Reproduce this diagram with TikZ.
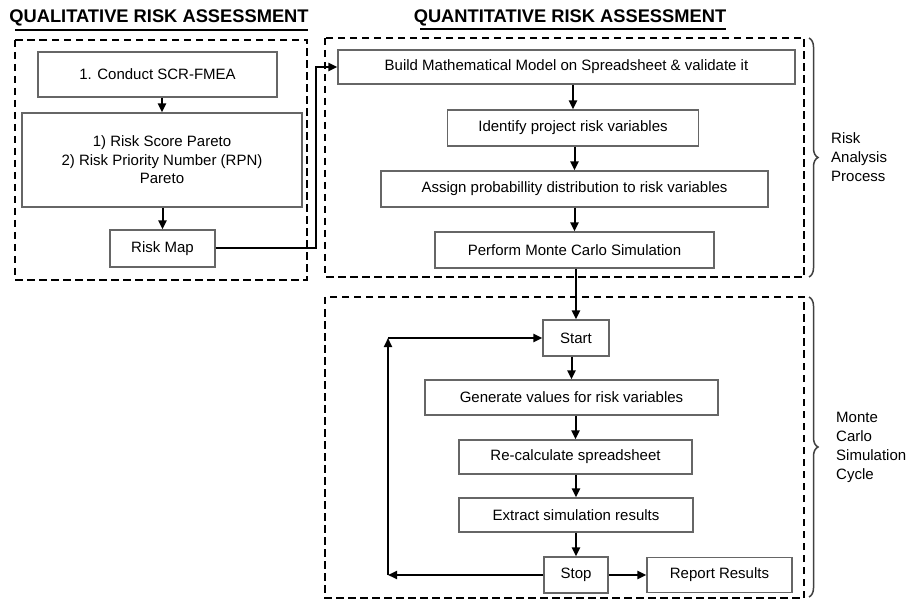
\documentclass[tikz,border=0pt]{standalone}
\usepackage{fontspec}
\setmainfont{Liberation Sans}
\usetikzlibrary{arrows.meta,decorations.pathreplacing}
\begin{document}
\begin{tikzpicture}[x=1pt,y=-1pt,
  box/.style={draw=black!60, line width=1.2pt, fill=white, inner sep=0pt,
    font=\fontsize{15}{18.5}\selectfont, align=center},
  arr/.style={line width=2pt, -{Triangle[length=9pt,width=8pt]}},
  dashbox/.style={line width=2.8pt, dash pattern=on 7.5pt off 4.5pt},
  ttl/.style={font=\fontsize{18.3}{21}\selectfont\bfseries, inner sep=0pt},
  brc/.style={draw=black!75, line width=1.5pt, decorate, decoration={brace, amplitude=9pt}},
  lbl/.style={font=\fontsize{15}{19}\selectfont, align=left, anchor=west, inner sep=0pt}]
\useasboundingbox (0,0) rectangle (920,601);
% titles
\node[ttl] (t1) at (159,18) {QUALITATIVE RISK ASSESSMENT};
\draw[line width=2pt] (15,30) -- (308,30);
\node[ttl] (t2) at (570,18) {QUANTITATIVE RISK ASSESSMENT};
\draw[line width=2pt] (420,29) -- (726,29);
% dashed frames
\draw[dashbox] (15,40) rectangle (307,280);
\draw[dashbox] (325,38) rectangle (804,277);
\draw[dashbox] (325,297) rectangle (804,598);
% left column
\node[box, minimum width=239pt, minimum height=45pt] (conduct) at (157.5,74.5) {1. Conduct SCR-FMEA};
\node[box, minimum width=280pt, minimum height=94pt] (pareto) at (162,160) {1) Risk Score Pareto\\2) Risk Priority Number (RPN)\\Pareto};
\node[box, minimum width=105pt, minimum height=37pt] (riskmap) at (162.5,248.5) {Risk Map};
% right column
\node[box, minimum width=457pt, minimum height=34pt] (build) at (566.5,67) {Build Mathematical Model on Spreadsheet \& validate it};
\node[box, minimum width=251pt, minimum height=36pt] (identify) at (573,128) {Identify project risk variables};
\node[box, minimum width=387pt, minimum height=36pt] (assign) at (574.5,189) {Assign probabillity distribution to risk variables};
\node[box, minimum width=279pt, minimum height=36pt] (perform) at (574.5,250) {Perform Monte Carlo Simulation};
\node[box, minimum width=66pt, minimum height=36pt] (start) at (576,338) {Start};
\node[box, minimum width=293pt, minimum height=35pt] (generate) at (571.5,397.5) {Generate values for risk variables};
\node[box, minimum width=233pt, minimum height=34pt] (recalc) at (575.5,457) {Re-calculate spreadsheet};
\node[box, minimum width=234pt, minimum height=34pt] (extract) at (576,515) {Extract simulation results};
\node[box, minimum width=64pt, minimum height=36pt] (stop) at (576,575) {Stop};
\node[box, minimum width=145pt, minimum height=35pt] (report) at (719.5,575) {Report Results};
% arrows left
\draw[arr] (conduct.south -| pareto.north) -- (pareto.north);
\draw[arr] (pareto.south -| riskmap.north) -- (riskmap.north);
\coordinate (rmturn) at (316,248.5);
\draw[arr] (riskmap.east) -- (rmturn) |- (build.west);
% arrows right
\draw[arr] (build.south -| identify.north) -- (identify.north);
\draw[arr] (identify.south -| assign.north) -- (assign.north);
\draw[arr] (assign.south -| perform.north) -- (perform.north);
\draw[arr] (perform.south -| start.north) -- (start.north);
\draw[arr] (start.south -| generate.north) -- (generate.north);
\draw[arr] (generate.south -| recalc.north) -- (recalc.north);
\draw[arr] (recalc.south -| extract.north) -- (extract.north);
\draw[arr] (extract.south -| stop.north) -- (stop.north);
\draw[arr] (stop.east) -- (report.west);
% loop
\coordinate (lb) at (388,575);
\coordinate (lt) at (388,338);
\draw[arr] (stop.west) -- (lb);
\draw[arr] (lb) -- (lt);
\draw[arr] (lt) -- (start.west);
% braces
\draw[brc] (809,38) -- (809,277);
\node[lbl] (ra) at (831,157) {Risk\\Analysis\\Process};
\draw[brc] (809,297) -- (809,597);
\node[lbl] (mc) at (836,447) {Monte\\Carlo\\Simulation\\Cycle};
\end{tikzpicture}
\end{document}
